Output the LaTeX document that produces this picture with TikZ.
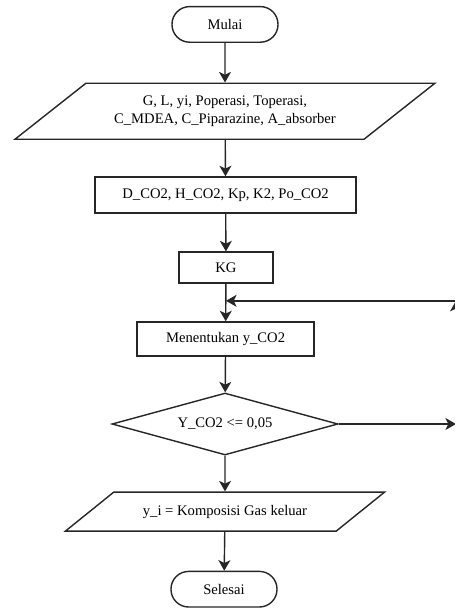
\documentclass[tikz,border=0pt]{standalone}
\usepackage{fontspec}
\setmainfont{Liberation Serif}
\usetikzlibrary{shapes.geometric,arrows.meta}
\begin{document}
\begin{tikzpicture}[
        >={Stealth[length=7.5pt,width=8.5pt,inset=2pt]},
        color=black!85, line width=1pt,
        every node/.style={font=\fontsize{10.4}{12.5}\selectfont, text=black},
        terminal/.style={draw, rounded corners=0.44cm, minimum width=2.65cm, minimum height=0.89cm},
        io/.style={draw, trapezium, trapezium stretches=true, align=center},
        process/.style={draw, rectangle},
        decision/.style={draw, diamond, aspect=3.6, minimum width=5.65cm, minimum height=1.55cm, inner sep=1pt}
    ]
                \clip (0,0) rectangle (11.375,-15.2);
                \node[terminal] (mulai) at (5.625,-0.61) {Mulai};
                \node[io, trapezium left angle=34, trapezium right angle=146,
                    minimum width=10.5cm, minimum height=1.4cm] (input) at (5.625,-2.78)
                    {G, L, yi, Poperasi, Toperasi,\\C\_MDEA, C\_Piparazine, A\_absorber};
                \node[process, minimum width=6.525cm, minimum height=0.9cm] (param) at (5.64,-4.875)
                    {D\_CO2, H\_CO2, Kp, K2, Po\_CO2};
                \node[process, minimum width=2.35cm, minimum height=0.775cm] (kg) at (5.65,-6.69) {KG};
                \node[process, minimum width=4.425cm, minimum height=0.85cm] (hitung) at (5.64,-8.475)
                    {Menentukan y\_CO2};
                \node[decision] (cek) at (5.625,-10.6) {Y\_CO2 <= 0,05};
                \node[io, trapezium left angle=31, trapezium right angle=149,
                    minimum width=8cm, minimum height=0.975cm] (output) at (5.625,-12.79)
                    {y\_i = Komposisi Gas keluar};
                \node[terminal] (selesai) at (5.6,-14.73) {Selesai};
                \coordinate (loopjoin) at (5.65,-7.52);
                \coordinate (loopbottom) at (11.4,-10.6);
                \coordinate (looptop) at (11.4,-7.52);
                \draw[->] (mulai) -- (input);
                \draw[->] (input) -- (param);
                \draw[->] (param) -- (kg);
                \draw[->] (kg) -- (hitung);
                \draw[->] (hitung) -- (cek);
                \draw[->] (cek) -- (output);
                \draw[->] (output) -- (selesai);
                \draw[->] (cek.east) -- (loopbottom);
                \draw[->] (loopbottom) -- (looptop);
                \draw[->] (looptop) -- (loopjoin);
            \end{tikzpicture}
\end{document}
